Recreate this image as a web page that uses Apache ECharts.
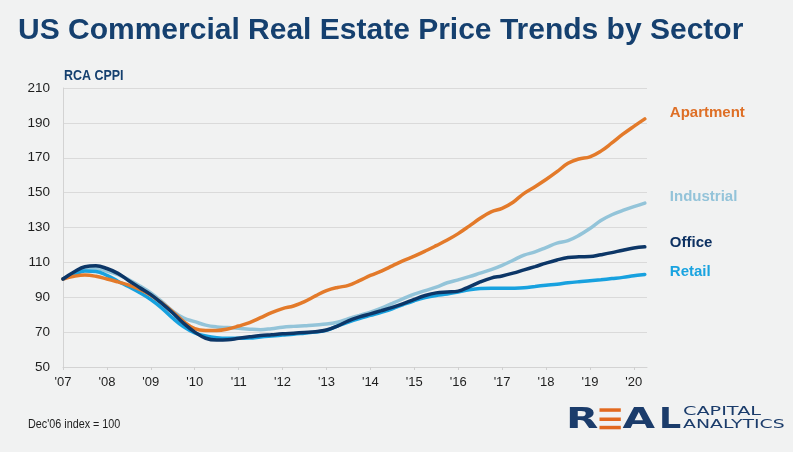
<!DOCTYPE html>
<html><head><meta charset="utf-8">
<script src="https://cdn.jsdelivr.net/npm/echarts@6/dist/echarts.min.js"></script>
<style>html,body{margin:0;padding:0;background:#f1f2f2;}#c{width:793px;height:452px;}</style>
</head><body><div id="c"></div>
<script>
const quarters = [2007,2007.25,2007.5,2007.75,2008,2008.25,2008.5,2008.75,2009,2009.25,2009.5,2009.75,
  2010,2010.25,2010.5,2010.75,2011,2011.25,2011.5,2011.75,2012,2012.25,2012.5,2012.75,
  2013,2013.25,2013.5,2013.75,2014,2014.25,2014.5,2014.75,2015,2015.25,2015.5,2015.75,
  2016,2016.25,2016.5,2016.75,2017,2017.25,2017.5,2017.75,2018,2018.25,2018.5,2018.75,
  2019,2019.25,2019.5,2019.75,2020,2020.25];
const yearTicks = [2007,2008,2009,2010,2011,2012,2013,2014,2015,2016,2017,2018,2019,2020];
const yTicks = [50,70,90,110,130,150,170,190,210];
const seriesNames = ['Industrial','Retail','Apartment','Office'];
const apartment = [100.5,102,102.7,102,100.5,98.8,97,94.5,91.2,86.8,81.7,76,
  72,71,71,71.8,73.5,75.5,78.3,81.2,83.5,85,87.5,90.8,
  93.8,95.6,96.8,99.5,102.5,105,108,111,113.6,116.5,119.6,122.8,
  126.5,130.8,135.3,139,141,144.5,149.6,153.4,157.5,162,166.8,169.3,
  170.5,173.8,178.5,183.5,188,192.3];
const industrial = [100.5,103.5,106,106.5,105,103,100,96.5,92.5,87.5,82,78,
  76,74,73,72.6,72.2,71.7,71.4,72,72.8,73.3,73.7,74.1,
  74.6,75.7,77.7,79.6,81.5,83.8,86.5,89.2,91.8,93.8,95.8,98.3,
  100,101.8,103.8,105.8,108.3,111.2,114.2,116,118.5,121,122.5,125.5,
  129.4,134,137.3,139.8,142,144];
const office = [100.5,104.5,107.5,108,106.5,103.7,99.5,95.5,91.5,86.5,81,75,
  70,66.5,65.5,65.6,66.5,67.3,68,68.5,69,69.4,69.8,70.2,
  71.2,73.5,76.5,78.7,80.5,82.3,84.2,86.3,88.8,91,92.5,93,
  93.5,96,98.8,101,102.2,103.8,105.7,107.6,109.6,111.4,112.8,113.2,
  113.3,114.4,115.6,117,118.2,118.9];
const retail = [100.5,103,105,104.8,102.5,99.2,96,92.6,88.7,83.8,78,73,
  69.5,67.8,66.8,66.5,66.5,66.6,67.2,67.8,68.3,68.8,69.4,70,
  71,73.5,75.8,77.8,79.6,81.4,83.4,85.8,88,89.8,91,91.8,
  93,94.3,95,95.1,95.1,95.2,95.5,96.2,96.9,97.5,98.3,98.9,
  99.4,100,100.7,101.4,102.3,103.1];

const valuesByName = {Apartment: apartment, Industrial: industrial, Office: office, Retail: retail};
const styleByName = {
  Apartment: {line:'#e37a2a', label:'#de6f26', dy:-6},
  Industrial: {line:'#93c4d9', label:'#93c3d9', dy:-6},
  Office: {line:'#0c3667', label:'#0d3162', dy:-4},
  Retail: {line:'#17a1df', label:'#19a3e0', dy:-3}
};

const chart = echarts.init(document.getElementById('c'), null, {renderer:'canvas'});
const navy = '#1b3c6b';
chart.setOption({
  backgroundColor: '#f1f2f2',
  animation: false,
  title: {
    text: 'US Commercial Real Estate Price Trends by Sector',
    left: 13, top: 11,
    textStyle: {fontFamily:'Liberation Sans', fontWeight:'bold', fontSize:30, color:'#15406f'}
  },
  grid: {left:63, right:146, top:88, bottom:85},
  xAxis: {
    type:'value', min:2007, max:2020.3,
    axisLine:{show:true, lineStyle:{color:'#d3d3d3', width:1}},
    axisTick:{show:true, customValues: yearTicks, length:3, lineStyle:{color:'#cfcfcf'}},
    splitLine:{show:false},
    axisLabel:{customValues: yearTicks, formatter: v => "'" + String(v).slice(2),
      fontFamily:'Liberation Sans', fontSize:13, color:'#1e1e1e', margin:9}
  },
  yAxis: {
    type:'value', min:50, max:210, interval:20,
    axisLine:{show:true, lineStyle:{color:'#d3d3d3', width:1}},
    axisTick:{show:false},
    splitLine:{show:true, lineStyle:{color:'#dadada', width:1}},
    axisLabel:{fontFamily:'Liberation Sans', fontSize:13.5, color:'#1e1e1e', margin:13}
  },
  series: seriesNames.map(n => ({
    name:n, type:'line', smooth:0.4, symbol:'none',
    data: quarters.map((q,i)=>[q, valuesByName[n][i]]),
    lineStyle:{color:styleByName[n].line, width:3.5, cap:'round'},
    itemStyle:{color:styleByName[n].line},
    endLabel:{show:true, formatter:n, distance:25, offset:[0, styleByName[n].dy],
      color:styleByName[n].label, fontFamily:'Liberation Sans', fontWeight:'bold', fontSize:15}
  })),
  graphic: [
    {type:'text', x:64, y:76, scaleX:0.83, style:{text:'RCA CPPI', font:'bold 15px "Liberation Sans"', fill:'#15406f', textVerticalAlign:'middle'}},
    {type:'text', x:28, y:424, scaleX:0.83, style:{text:"Dec'06 index = 100", font:'13px "Liberation Sans"', fill:'#1e1e1e', textVerticalAlign:'middle'}},
    {type:'text', x:566, y:420.5, scaleX:1.45, style:{text:'R', font:'bold 29px "DejaVu Sans"', fill:navy, textVerticalAlign:'middle'}},
    {type:'rect', shape:{x:599.5, y:408.3, width:21.3, height:3.5}, style:{fill:'#e2691f'}},
    {type:'rect', shape:{x:599.5, y:417.5, width:21.3, height:3.5}, style:{fill:'#e2691f'}},
    {type:'rect', shape:{x:599.5, y:425.8, width:21.3, height:3.5}, style:{fill:'#e2691f'}},
    {type:'text', x:622.5, y:420.5, scaleX:1.45, style:{text:'A', font:'bold 29px "DejaVu Sans"', fill:navy, textVerticalAlign:'middle'}},
    {type:'text', x:659, y:420.5, scaleX:1.2, style:{text:'L', font:'bold 29px "DejaVu Sans"', fill:navy, textVerticalAlign:'middle'}},
    {type:'text', x:683, y:412, scaleX:1.48, style:{text:'CAPITAL', font:'13px "DejaVu Sans"', fill:navy, textVerticalAlign:'middle'}},
    {type:'text', x:683, y:424.8, scaleX:1.45, style:{text:'ANALYTICS', font:'13px "DejaVu Sans"', fill:navy, textVerticalAlign:'middle'}}
  ]
});
</script></body></html>
